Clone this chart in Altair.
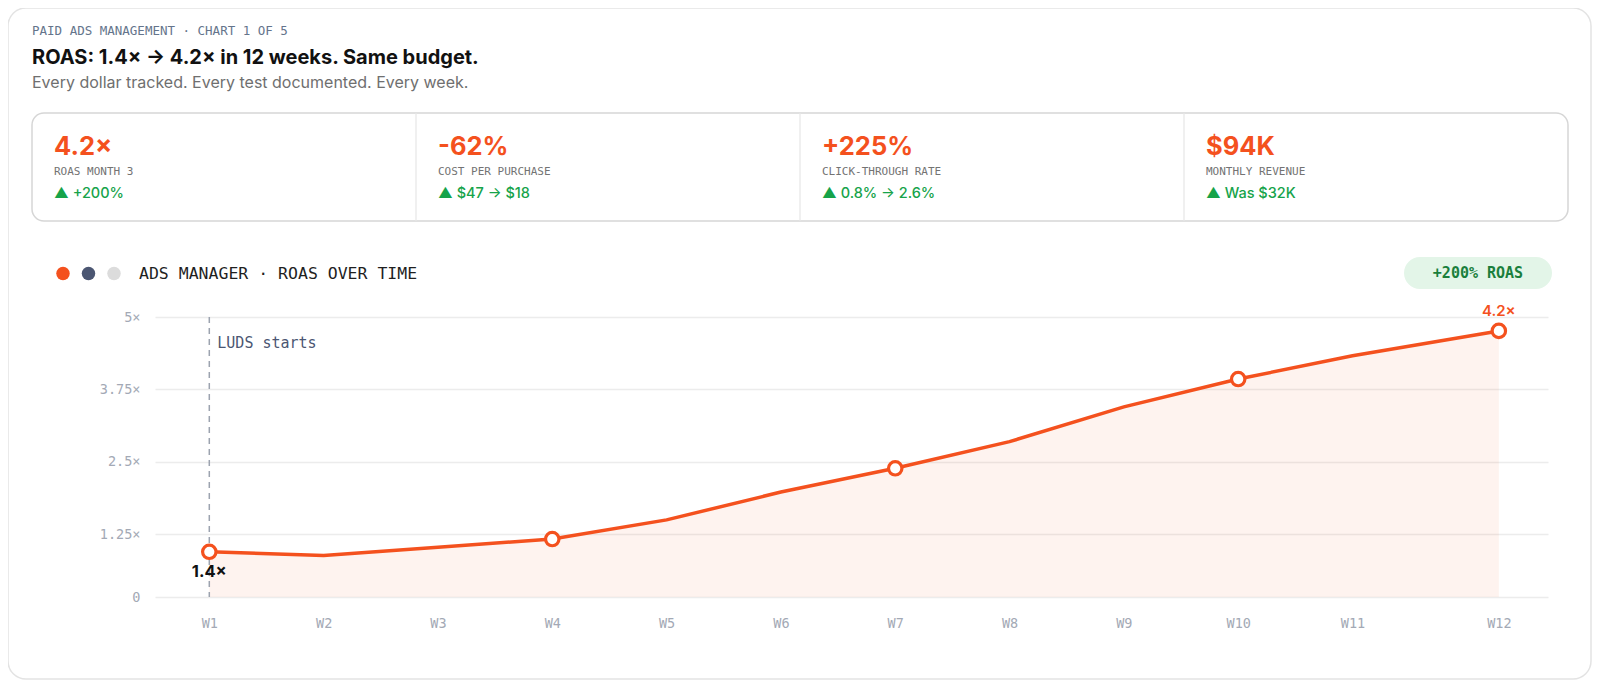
import altair as alt
import pandas as pd

ORANGE = "#f4511e"
MONO = "DejaVu Sans Mono"
SANS = "Inter"

# line data (values as drawn against the chart's y axis)
weeks = ["W1", "W2", "W3", "W4", "W5", "W6", "W7", "W8", "W9", "W10", "W11", "W12"]
week_pos = [1, 2, 3, 4, 5, 6, 7, 8, 9, 10, 11, 12.28]
roas_drawn = [0.95, 0.885, 1.03, 1.17, 1.50, 1.98, 2.39, 2.85, 3.45, 3.93, 4.33, 4.76]
marked_weeks = ["W1", "W4", "W7", "W10", "W12"]
start_label, end_label = "1.4×", "4.2×"

baseline = 0.17
y_ticks = [baseline, 1.25, 2.5, 3.75, 5]

# KPI strip
kpi_values = ["4.2×", "-62%", "+225%", "$94K"]
kpi_labels = ["ROAS MONTH 3", "COST PER PURCHASE", "CLICK-THROUGH RATE", "MONTHLY REVENUE"]
kpi_deltas = ["▲ +200%", "▲ $47 → $18", "▲ 0.8% → 2.6%", "▲ Was $32K"]

dot_colors = [ORANGE, "#4b5672", "#dcdcdc"]

df = pd.DataFrame({"week": weeks, "pos": week_pos, "roas": roas_drawn})
df["marked"] = df["week"].isin(marked_weeks)

kpi = pd.DataFrame({"col": range(4), "value": kpi_values, "label": kpi_labels, "delta": kpi_deltas})
one = pd.DataFrame({"k": [0]})

x_axis = alt.Axis(values=week_pos, labelExpr="'W' + round(datum.value)", title=None, grid=False,
                  domain=False, ticks=False, labelFont=MONO, labelFontSize=13.5, labelColor="#a3a9b5",
                  labelPadding=26, labelBaseline="middle", labelFlush=False, labelOverlap=False)
y_axis = alt.Axis(values=y_ticks, labelExpr="datum.value < 1 ? '0' : format(datum.value, '~g') + '×'",
                  title=None, grid=True, gridColor="#ececec", gridWidth=1.5, domain=False, ticks=False,
                  labelFont=MONO, labelFontSize=13.5, labelColor="#a3a9b5", labelPadding=15)

X = alt.X("pos:Q", axis=x_axis, scale=alt.Scale(domain=[0.525, 12.71], nice=False, zero=False))
Y = alt.Y("roas:Q", axis=y_axis, scale=alt.Scale(domain=[baseline, 5], nice=False, zero=False))

base = alt.Chart(df).encode(x=X, y=Y)

area = base.mark_area(color=ORANGE, opacity=0.07).encode(y2=alt.datum(baseline))
line = base.mark_line(color=ORANGE, strokeWidth=3.5)
points = base.transform_filter("datum.marked").mark_point(
    shape="circle", filled=True, fill="white", stroke=ORANGE, strokeWidth=3.2, size=180, opacity=1)
lbl_start = base.transform_filter("datum.week == 'W1'").mark_text(
    text=start_label, dy=20, font=SANS, fontWeight="bold", fontSize=16.5, color="#111111")
lbl_end = base.transform_filter("datum.week == 'W12'").mark_text(
    text=end_label, dy=-20, font=SANS, fontWeight=600, fontSize=15, color=ORANGE)

event = alt.Chart(one).mark_rule(color="#9ca3af", strokeDash=[6, 5], strokeWidth=1.5).encode(
    x=alt.datum(1), y=alt.datum(5), y2=alt.datum(baseline))
event_txt = alt.Chart(one).mark_text(text="LUDS starts", align="left", dx=8, dy=26, font=MONO,
                                     fontSize=15, color="#4b5672").encode(x=alt.datum(1), y=alt.datum(5))

# page decoration (pixel positions relative to the plot origin)
frame = alt.Chart(one).mark_rect(fill="transparent", stroke="#e3e3e3", strokeWidth=1.5, cornerRadius=18).encode(
    x=alt.value(-147), x2=alt.value(1436), y=alt.value(-309), y2=alt.value(362))

eyebrow = alt.Chart(one).mark_text(text="PAID ADS MANAGEMENT · CHART 1 OF 5", align="left", font=MONO,
                                   fontSize=12.5, color="#64748b").encode(x=alt.value(-123), y=alt.value(-286.5))
title = alt.Chart(one).mark_text(text="ROAS: 1.4× → 4.2× in 12 weeks. Same budget.", align="left", font=SANS,
                                 fontSize=20, fontWeight="bold", color="#111111").encode(
    x=alt.value(-123), y=alt.value(-259))
subtitle = alt.Chart(one).mark_text(text="Every dollar tracked. Every test documented. Every week.", align="left",
                                    font=SANS, fontSize=16, color="#6f6f6f").encode(
    x=alt.value(-123), y=alt.value(-234))

card = alt.Chart(one).mark_rect(fill="white", stroke="#d6d6d6", strokeWidth=1.5, cornerRadius=12).encode(
    x=alt.value(-123), x2=alt.value(1413), y=alt.value(-204), y2=alt.value(-96))
dividers = alt.Chart(kpi).transform_filter("datum.col > 0").transform_calculate(
    px="-123 + datum.col * 384").mark_rule(color="#e6e6e6", strokeWidth=1.2).encode(
    x=alt.X("px:Q", scale=None), y=alt.value(-204), y2=alt.value(-96))

kpi_base = alt.Chart(kpi).transform_calculate(px="-101 + datum.col * 384").encode(
    x=alt.X("px:Q", scale=None))
kpi_val = kpi_base.mark_text(align="left", font=SANS, fontSize=25.5, fontWeight="bold", color=ORANGE).encode(
    y=alt.value(-170), text="value:N")
kpi_lab = kpi_base.mark_text(align="left", font=MONO, fontSize=11, color="#737373").encode(
    y=alt.value(-145), text="label:N")
kpi_del = kpi_base.mark_text(align="left", font=SANS, fontSize=14.5, fontWeight=500, color="#16a34a").encode(
    y=alt.value(-123.5), text="delta:N")

dots = alt.Chart(pd.DataFrame({"i": range(3), "c": dot_colors})).transform_calculate(
    px="-92 + datum.i * 25.5").mark_circle(size=182, opacity=1).encode(
    x=alt.X("px:Q", scale=None), y=alt.value(-43.5), color=alt.Color("c:N", scale=None))
panel_title = alt.Chart(one).mark_text(text="ADS MANAGER · ROAS OVER TIME", align="left", font=MONO,
                                       fontSize=16.5, color="#1f1f1f").encode(x=alt.value(-16), y=alt.value(-43.5))

pill = alt.Chart(one).mark_rect(fill="#e3f5e8", cornerRadius=16).encode(
    x=alt.value(1249), x2=alt.value(1397), y=alt.value(-60), y2=alt.value(-28))
pill_txt = alt.Chart(one).mark_text(text="+200% ROAS", font=MONO, fontSize=15, fontWeight="bold",
                                    color="#1a7f3c").encode(x=alt.value(1323), y=alt.value(-44))

chart = alt.layer(
    frame, eyebrow, title, subtitle, card, dividers, kpi_val, kpi_lab, kpi_del,
    dots, panel_title, pill, pill_txt,
    area, event, line, points, lbl_start, lbl_end, event_txt,
).properties(
    width=1393, height=280,
    padding={"left": 147, "top": 309, "right": 44, "bottom": 83},
    autosize=alt.AutoSizeParams(type="none"),
    background="white",
).configure_view(stroke=None)

chart.save("out.html", embed_options={"renderer": "svg", "actions": False})
